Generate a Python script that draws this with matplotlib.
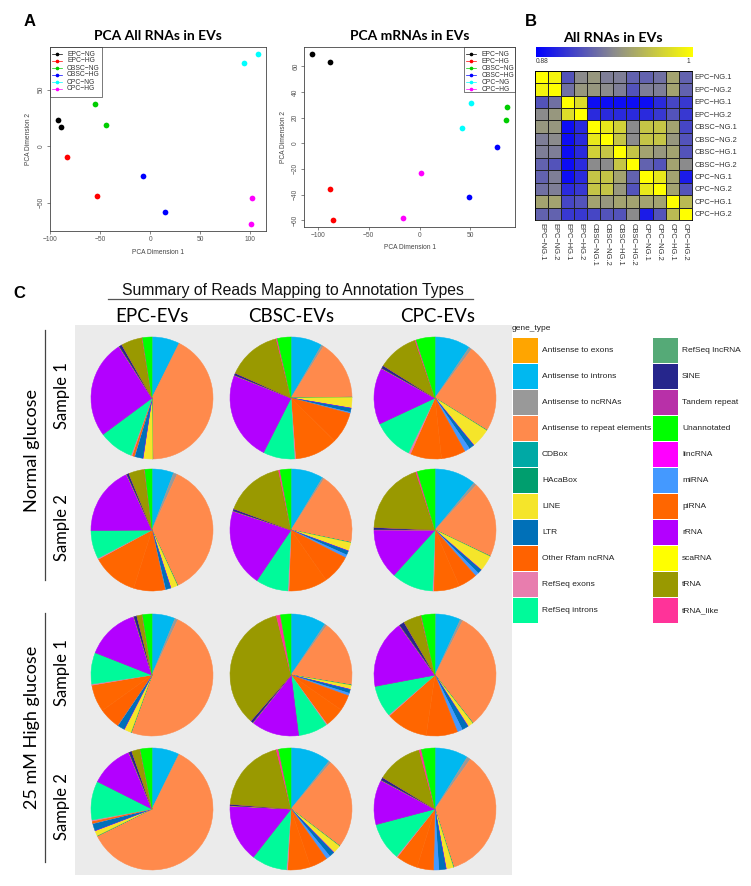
import matplotlib
matplotlib.use("Agg")
import matplotlib.pyplot as plt
from matplotlib.lines import Line2D
from matplotlib.patches import Rectangle
from matplotlib.colors import LinearSegmentedColormap
import numpy as np

# ---------------- DATA ----------------
groups = ["EPC\u2212NG", "EPC\u2212HG", "CBSC\u2212NG", "CBSC\u2212HG", "CPC\u2212NG", "CPC\u2212HG"]
group_colors = ["#000000", "#FF0000", "#00CD00", "#0000FF", "#00FFFF", "#FF00FF"]

# PCA all RNAs (two replicates per group)
pca_all_x = [[-92.3, -89.7], [-83.0, -53.3], [-55.3, -44.3], [-7.3, 15.0], [93.7, 107.7], [101.3, 100.7]]
pca_all_y = [[23.5, 17.4], [-9.7, -44.4], [37.4, 18.5], [-26.2, -58.2], [73.6, 81.8], [-46.2, -69.0]]
# PCA mRNAs
pca_mrna_x = [[-105.5, -87.5], [-87.5, -85.3], [86.0, 85.0], [76.2, 49.0], [50.7, 41.2], [1.3, -16.7]]
pca_mrna_y = [[69.6, 63.6], [-36.0, -59.9], [28.0, 17.9], [-3.1, -42.0], [31.7, 11.7], [-23.3, -58.1]]
pca_all_xticks = [-100, -50, 0, 50, 100]
pca_all_yticks = [-50, 0, 50]
pca_mrna_xticks = [-100, -50, 0, 50]
pca_mrna_yticks = [-60, -40, -20, 0, 20, 40, 60]

# Correlation heatmap
samples = ["EPC\u2212NG.1", "EPC\u2212NG.2", "EPC\u2212HG.1", "EPC\u2212HG.2",
           "CBSC\u2212NG.1", "CBSC\u2212NG.2", "CBSC\u2212HG.1", "CBSC\u2212HG.2",
           "CPC\u2212NG.1", "CPC\u2212NG.2", "CPC\u2212HG.1", "CPC\u2212HG.2"]
corr_matrix = [
    [1.000, 0.994, 0.916, 0.940, 0.946, 0.934, 0.934, 0.922, 0.922, 0.928, 0.952, 0.922],
    [0.994, 1.000, 0.928, 0.946, 0.946, 0.940, 0.934, 0.916, 0.934, 0.934, 0.952, 0.922],
    [0.916, 0.928, 1.000, 0.982, 0.886, 0.886, 0.886, 0.886, 0.886, 0.898, 0.910, 0.904],
    [0.940, 0.946, 0.982, 1.000, 0.898, 0.898, 0.898, 0.898, 0.898, 0.904, 0.916, 0.904],
    [0.946, 0.946, 0.886, 0.898, 1.000, 0.988, 0.976, 0.940, 0.970, 0.970, 0.952, 0.910],
    [0.934, 0.940, 0.886, 0.898, 0.988, 1.000, 0.970, 0.940, 0.970, 0.970, 0.946, 0.916],
    [0.934, 0.934, 0.886, 0.898, 0.976, 0.970, 1.000, 0.970, 0.952, 0.946, 0.952, 0.916],
    [0.922, 0.916, 0.886, 0.898, 0.940, 0.940, 0.970, 1.000, 0.922, 0.916, 0.952, 0.940],
    [0.922, 0.934, 0.886, 0.898, 0.970, 0.970, 0.952, 0.922, 1.000, 0.988, 0.952, 0.892],
    [0.928, 0.934, 0.898, 0.904, 0.970, 0.970, 0.946, 0.916, 0.988, 1.000, 0.952, 0.916],
    [0.952, 0.952, 0.910, 0.916, 0.952, 0.946, 0.952, 0.952, 0.952, 0.952, 1.000, 0.964],
    [0.922, 0.922, 0.904, 0.904, 0.910, 0.916, 0.916, 0.940, 0.892, 0.916, 0.964, 1.000],
]
corr_min, corr_max = 0.88, 1.0

# Gene types (legend order) and colours
gene_types = ["Antisense to exons", "Antisense to introns", "Antisense to ncRNAs",
              "Antisense to repeat elements", "CDBox", "HAcaBox", "LINE", "LTR",
              "Other Rfam ncRNA", "RefSeq exons", "RefSeq introns", "RefSeq lncRNA",
              "SINE", "Tandem repeat", "Unannotated", "lincRNA", "miRNA", "piRNA",
              "rRNA", "scaRNA", "tRNA", "tRNA_like"]
gene_colors = ["#FFA500", "#00B8F0", "#999999", "#FF8A4C", "#00A9A5", "#009E6E",
               "#F5E52A", "#0070B8", "#FF6200", "#E87DAE", "#00FA9A", "#55AA77",
               "#26268C", "#B830A8", "#00FF00", "#FF00FF", "#4499FF", "#FF6600",
               "#B300FF", "#FFFF00", "#999900", "#FF3399"]
# order in which slices are stacked (clockwise from 12 o'clock)
pie_order = ["Antisense to exons", "Antisense to introns", "Antisense to ncRNAs",
             "Antisense to repeat elements", "CDBox", "HAcaBox", "LINE", "lincRNA",
             "LTR", "miRNA", "Other Rfam ncRNA", "piRNA", "RefSeq exons", "RefSeq introns",
             "RefSeq lncRNA", "rRNA", "scaRNA", "SINE", "Tandem repeat", "tRNA",
             "tRNA_like", "Unannotated"]

# percentage of reads per gene type (in pie_order)
epc_ng_s1 = [0.1, 7.2, 0.1, 42.4, 0.05, 0.03, 2.5, 0.05, 2.2, 0.1, 0.3, 0.3, 0.3, 9.2, 0.1, 26.1, 0.03, 0.8, 0.03, 5.6, 0.1, 2.5]
cbsc_ng_s1 = [0.06, 8.3, 0.6, 15.8, 0.06, 0.03, 2.8, 0.06, 1.1, 0.3, 8.3, 11.4, 0.3, 8.3, 0.08, 23.6, 0.03, 0.6, 0.03, 14.4, 0.3, 3.6]
cpc_ng_s1 = [0.06, 9.4, 0.8, 23.6, 0.06, 0.03, 5.1, 0.06, 1.4, 1.4, 6.4, 8.3, 0.6, 10.8, 0.08, 15.0, 0.03, 0.8, 0.03, 10.8, 0.3, 5.0]
epc_ng_s2 = [0.06, 5.7, 1.0, 36.4, 0.06, 0.03, 1.8, 0.06, 1.4, 0.14, 8.3, 12.2, 0.3, 7.5, 0.08, 18.3, 0.03, 0.6, 0.03, 4.2, 0.08, 1.9]
cbsc_ng_s2 = [0.06, 8.6, 0.5, 19.2, 0.06, 0.03, 2.2, 0.06, 1.1, 0.8, 7.8, 10.3, 0.3, 8.6, 0.08, 20.6, 0.03, 0.6, 0.03, 16.1, 0.4, 2.9]
cpc_ng_s2 = [0.06, 11.0, 0.8, 20.3, 0.06, 0.03, 4.2, 0.06, 1.1, 1.0, 5.0, 6.9, 0.3, 11.1, 0.08, 13.3, 0.03, 0.6, 0.03, 19.3, 0.4, 4.7]
epc_hg_s1 = [0.06, 6.1, 0.8, 48.6, 0.06, 0.03, 1.9, 0.06, 1.9, 0.08, 5.6, 7.2, 0.3, 8.3, 0.08, 14.2, 0.03, 0.8, 0.03, 1.4, 0.08, 2.5]
cbsc_hg_s1 = [0.06, 9.4, 0.6, 17.8, 0.06, 0.03, 1.1, 0.06, 1.0, 0.7, 4.2, 5.3, 0.3, 7.8, 0.08, 12.8, 0.03, 0.7, 0.03, 35.0, 1.1, 2.8]
cpc_hg_s1 = [0.14, 6.7, 0.7, 31.9, 0.06, 0.03, 1.4, 0.06, 1.7, 1.4, 8.3, 11.1, 0.3, 8.3, 0.08, 18.1, 0.03, 1.4, 0.03, 4.7, 0.14, 3.6]
epc_hg_s2 = [0.06, 7.2, 0.14, 60.6, 0.06, 0.03, 1.4, 0.06, 1.9, 0.08, 0.3, 0.3, 0.3, 10.3, 0.08, 11.4, 0.03, 0.8, 0.03, 2.2, 0.08, 3.1]
cbsc_hg_s2 = [0.06, 10.7, 0.6, 24.2, 0.06, 0.03, 2.2, 0.06, 1.4, 1.1, 4.7, 6.1, 0.3, 9.4, 0.08, 15.3, 0.03, 0.4, 0.03, 20.0, 0.6, 3.3]
cpc_hg_s2 = [0.06, 8.8, 1.0, 35.3, 0.06, 0.03, 1.9, 0.06, 1.9, 1.4, 4.4, 5.8, 0.3, 10.0, 0.08, 11.9, 0.03, 0.8, 0.03, 12.2, 0.6, 3.6]

cell_labels = ["EPC-EVs", "CBSC-EVs", "CPC-EVs"]
condition_labels = ["Normal glucose", "25 mM High glucose"]
sample_labels = ["Sample 1", "Sample 2"]

# ---------------- LAYOUT HELPERS ----------------
W, H = 751, 886
fig = plt.figure(figsize=(W / 100, H / 100), dpi=100)
fig.patch.set_facecolor("white")
RF = "Liberation Sans"
TF = "Lato"


def ax_px(x0, y0, x1, y1, **kw):
    return fig.add_axes([x0 / W, 1 - y1 / H, (x1 - x0) / W, (y1 - y0) / H], **kw)


def txt(x, y, s, **kw):
    return fig.text(x / W, 1 - y / H, s, **kw)


def fline(xs, ys, **kw):
    fig.add_artist(Line2D([x / W for x in xs], [1 - y / H for y in ys], transform=fig.transFigure, **kw))


# ---------------- PANEL A: PCA ----------------
def pca_plot(box, xs, ys, xlim, ylim, xticks, yticks, title, legend_box):
    ax = ax_px(*box)
    for i in range(len(groups)):
        ax.scatter(xs[i], ys[i], s=17, color=group_colors[i], zorder=3, linewidths=0)
    ax.set_xlim(*xlim)
    ax.set_ylim(*ylim)
    ax.set_xticks(xticks)
    ax.set_yticks(yticks)
    ax.tick_params(labelsize=4.8, length=2.2, width=0.5, colors="#555555", pad=1.5)
    for lab in ax.get_yticklabels():
        lab.set_rotation(90)
        lab.set_va("center")
        lab.set_family(RF)
    for lab in ax.get_xticklabels():
        lab.set_family(RF)
    for sp in ax.spines.values():
        sp.set_linewidth(0.6)
        sp.set_color("#444444")
    ax.set_xlabel("PCA Dimension 1", fontsize=4.8, family=RF, color="#444444", labelpad=4)
    ax.set_ylabel("PCA Dimension 2", fontsize=4.8, family=RF, color="#444444", labelpad=4)
    cx = (box[0] + box[2]) / 2
    txt(cx, 36, title, fontsize=10, fontweight="bold", family=TF, ha="center", va="center")
    # legend box
    lx0, ly0, lx1, ly1 = legend_box
    fig.add_artist(Rectangle((lx0 / W, 1 - ly1 / H), (lx1 - lx0) / W, (ly1 - ly0) / H,
                             transform=fig.transFigure, fill=False, lw=0.5, ec="#444444"))
    for i, g in enumerate(groups):
        yy = ly0 + 7 + i * 7
        fline([lx0 + 2, lx0 + 12], [yy, yy], color=group_colors[i], lw=0.5)
        fig.add_artist(Line2D([(lx0 + 7) / W], [1 - yy / H], transform=fig.transFigure,
                              marker="o", ms=1.6, color=group_colors[i], lw=0))
        txt(lx0 + 17, yy, g, fontsize=4.9, family=RF, va="center", ha="left", color="#333333")
    return ax


pca_plot((50, 47, 266, 231), pca_all_x, pca_all_y, (-100.3, 115.7), (-75, 87.8),
         pca_all_xticks, pca_all_yticks, "PCA All RNAs in EVs", (50, 47, 101.7, 97.3))
pca_plot((304.3, 47.3, 515, 226.7), pca_mrna_x, pca_mrna_y, (-113.2, 93.7), (-65.1, 74.8),
         pca_mrna_xticks, pca_mrna_yticks, "PCA mRNAs in EVs", (464.3, 47.3, 515, 92.3))
txt(30, 22, "A", fontsize=12, fontweight="bold", family="Liberation Sans", ha="center", va="center")

# ---------------- PANEL B: heatmap ----------------
txt(531, 22, "B", fontsize=12, fontweight="bold", family="Liberation Sans", ha="center", va="center")
txt(613, 38, "All RNAs in EVs", fontsize=10.3, fontweight="bold", family=TF, ha="center", va="center")
cmap = LinearSegmentedColormap.from_list("byg", ["#0000FF", "#8C8C8C", "#FFFF00"])
cax = ax_px(535.7, 46.7, 691.7, 57.3)
cax.imshow(np.linspace(corr_min, corr_max, 256)[None, :], aspect="auto", cmap=cmap,
           vmin=corr_min, vmax=corr_max, extent=(corr_min, corr_max, 0, 1))
cax.set_xticks([])
cax.set_yticks([])
for sp in cax.spines.values():
    sp.set_visible(False)
txt(536, 61.5, f"{corr_min:.2f}", fontsize=4.8, family=RF, ha="left", va="center", color="#333333")
txt(690, 61.5, f"{corr_max:g}", fontsize=4.8, family=RF, ha="right", va="center", color="#333333")

hax = ax_px(535, 70.7, 691.7, 220)
mat = np.array(corr_matrix)
n = len(samples)
hax.pcolormesh(np.arange(n + 1), np.arange(n + 1), mat, cmap=cmap, vmin=corr_min, vmax=corr_max,
               edgecolors="#222222", linewidth=0.5)
hax.set_xlim(0, n)
hax.set_ylim(n, 0)
hax.set_xticks(np.arange(n) + 0.5)
hax.set_yticks(np.arange(n) + 0.5)
hax.set_xticklabels(samples, rotation=-90, fontsize=5.4, family=RF, color="#333333")
hax.set_yticklabels(samples, fontsize=5.4, family=RF, color="#333333")
hax.yaxis.tick_right()
hax.tick_params(length=0, pad=2)
for sp in hax.spines.values():
    sp.set_linewidth(0.6)

# ---------------- PANEL C: pies ----------------
txt(19, 293, "C", fontsize=12, fontweight="bold", family="Liberation Sans", ha="center", va="center")
txt(293, 290, "Summary of Reads Mapping to Annotation Types", fontsize=11.3, family=RF,
    ha="center", va="center", color="#111111")
fline([108, 473], [299, 299], color="#555555", lw=0.9)

col_x = [152, 291, 435]
row_y = [398, 530, 675, 809]
radius = 61
for j, lab in enumerate(cell_labels):
    txt(col_x[j] + (3 if j == 2 else 0), 316, lab, fontsize=13.5, family=TF, ha="center", va="center")

pax = ax_px(75, 325, 512, 875)
pax.set_facecolor("#EBEBEB")
color_of = dict(zip(gene_types, gene_colors))
slice_colors = [color_of[g] for g in pie_order]
pie_values = [[epc_ng_s1, cbsc_ng_s1, cpc_ng_s1],
              [epc_ng_s2, cbsc_ng_s2, cpc_ng_s2],
              [epc_hg_s1, cbsc_hg_s1, cpc_hg_s1],
              [epc_hg_s2, cbsc_hg_s2, cpc_hg_s2]]
for r in range(4):
    for c in range(3):
        wedges, _ = pax.pie(pie_values[r][c], colors=slice_colors, startangle=90, counterclock=False,
                            radius=radius, center=(col_x[c], H - row_y[r]), frame=True)
        for w in wedges:
            w.set_edgecolor(w.get_facecolor())
            w.set_linewidth(0.35)
pax.set_xlim(75, 512)
pax.set_ylim(H - 875, H - 325)
pax.set_xticks([])
pax.set_yticks([])
for sp in pax.spines.values():
    sp.set_visible(False)

# row labels
txt(32, 450, condition_labels[0], fontsize=13, family=TF, rotation=90, ha="center", va="center")
txt(32, 727, condition_labels[1], fontsize=13, family=TF, rotation=90, ha="center", va="center")
fline([45, 45], [330, 580], color="#444444", lw=0.9)
fline([45, 45], [613, 862], color="#444444", lw=0.9)
for r in range(4):
    txt(62, row_y[r] - 2, sample_labels[r % 2], fontsize=12, family=TF, rotation=90,
        ha="center", va="center")

# legend
txt(512, 328, "gene_type", fontsize=6, family=RF, ha="left", va="center", color="#222222")
for i, (g, col) in enumerate(zip(gene_types, gene_colors)):
    cidx, ridx = divmod(i, 11)
    kx = 513 if cidx == 0 else 653
    ky = 338 + ridx * 26
    fig.add_artist(Rectangle((kx / W, 1 - (ky + 25) / H), 25 / W, 25 / H,
                             transform=fig.transFigure, color=col, lw=0))
    txt(kx + 29, ky + 12.5, g, fontsize=6, family=RF, ha="left", va="center", color="#222222")

fig.savefig("out.png", dpi=100)
